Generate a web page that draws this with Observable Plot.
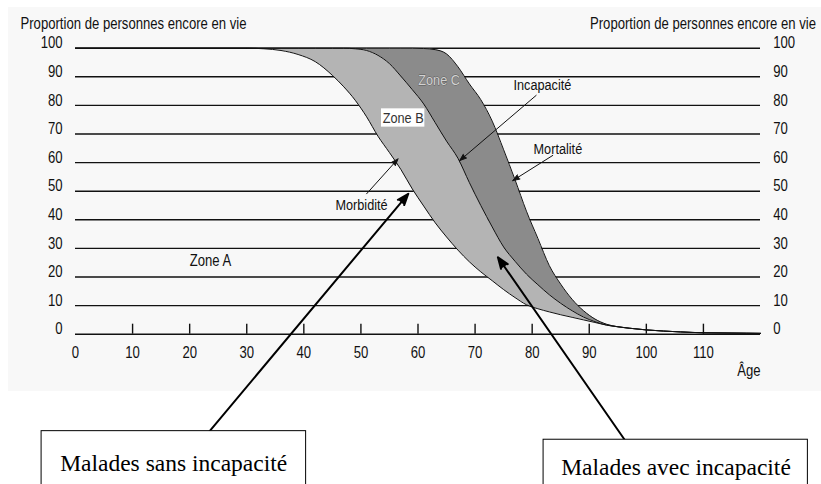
<!DOCTYPE html>
<html><head><meta charset="utf-8">
<script src="https://cdn.jsdelivr.net/npm/d3@7"></script>
<script src="https://cdn.jsdelivr.net/npm/@observablehq/plot@0.6"></script>
<style>
html,body{margin:0;padding:0;background:#fff;}
#wrap{position:relative;width:821px;height:484px;overflow:hidden;}
#panel{position:absolute;left:8px;top:7px;width:813px;height:384px;background:#f8f8f8;}
#chart{position:absolute;left:0;top:0;}
</style></head><body>
<div id="wrap"><div id="panel"></div><div id="chart"></div></div>
<script>
// Âge (années)
const ages       = [0,30,33,36,39,42,45,47,49,51,53,55,57,59,61,63,65,67,69,71,73,75,77,79,81,83,85,87,89,91,93,95,97,100,103,106,110,115,120];
// Proportion de personnes encore en vie (%)
const morbidite  = [100,100,99.8,99.2,97.8,95.3,90.5,86.5,81.8,76,69.2,63.5,57.6,50.8,44.8,39,34,29.4,25.3,21.8,18.7,15.6,12.8,10.3,8.9,7.8,6.8,5.9,5,4.1,3.2,2.6,2.1,1.5,1.1,0.8,0.5,0.4,0.3];
const incapacite = [100,100,100,100,100,100,100,100,99.8,99.2,97.5,94.6,90.2,85.5,80.5,74,67.5,61.5,53,45,37.5,30.5,25.5,21,17.3,13.8,10.8,8.2,6,4.4,3.2,2.6,2.1,1.5,1.1,0.8,0.5,0.4,0.3];
const mortalite  = [100,100,100,100,100,100,100,100,100,100,100,100,100,100,99.9,99.5,98,93.5,87.5,82,74.5,64.5,54,43,33.5,24,17.5,12.2,8.2,5.3,3.5,2.6,2.1,1.5,1.1,0.8,0.5,0.4,0.3];

const yTicks = [0,10,20,30,40,50,60,70,80,90,100];
const xLabels = [0,10,20,30,40,50,60,70,80,90,100,110];
const xTickMarks = [10,20,30,40,50,60,70,80,90,100,110];

const titre = "Proportion de personnes encore en vie";
const axeX = "Âge";

const zoneLabels = [
  {text: "Zone A", x: 20, y: 25.8},
];
const zoneB = {text: "Zone B", x: 57.4, y: 75.6, x1: 53.6, x2: 61.2, y1: 72.4, y2: 78.8};
const zoneC = {text: "Zone C", x: 63.7, y: 88.7};

const curveLabels = [
  {text: "Morbidité", x: 50.1, y: 45.3, anchor: "end"},
  {text: "Incapacité", x: 81.8, y: 87, anchor: "start"},
  {text: "Mortalité", x: 84.5, y: 64.8, anchor: "start"}
];
const smallArrows = [
  {x1: 51, y1: 49.1, x2: 56.5, y2: 61.3},
  {x1: 80.7, y1: 83.5, x2: 67.3, y2: 60.7},
  {x1: 83.6, y1: 62.5, x2: 76.6, y2: 53.7}
];
const bigArrows = [
  {x1: 23.5, y1: -33.9, x2: 58.3, y2: 49.1},
  {x1: 96.2, y1: -36.9, x2: 74.0, y2: 26.9}
];
const boxes = [
  {text: "Malades sans incapacité", x1: -5.94, x2: 40.4, y1: -33.9, y2: -60, tx: 17.2, ty: -45.2},
  {text: "Malades avec incapacité", x1: 82.0, x2: 128.3, y1: -36.9, y2: -60, tx: 105.2, ty: -46.6}
];

const rows = ages.map((a, i) => ({age: a, morb: morbidite[i], inc: incapacite[i], mort: mortalite[i]}));

const sans = "'Liberation Sans',Arial,sans-serif";
const serif = "'Liberation Serif','Times New Roman',serif";
const curve = "monotone-x";

const chart = Plot.plot({
  width: 821,
  height: 484,
  marginLeft: 75,
  marginRight: 61,
  marginTop: 47.7,
  marginBottom: 150.3,
  style: {background: "transparent", fontFamily: sans, fontSize: "16px", color: "#111"},
  x: {domain: [0, 120]},
  y: {domain: [0, 100]},
  marks: [
    Plot.ruleY(yTicks, {y: d => d, x1: 0, x2: 120, stroke: "#111", strokeWidth: 1.4}),
    Plot.areaY(rows, {x: "age", y1: "morb", y2: "inc", fill: "#b4b4b4", curve}),
    Plot.areaY(rows, {x: "age", y1: "inc", y2: "mort", fill: "#8b8b8b", curve}),
    Plot.line(rows, {x: "age", y: "morb", stroke: "#111", strokeWidth: 1, curve}),
    Plot.line(rows, {x: "age", y: "inc", stroke: "#111", strokeWidth: 1, curve}),
    Plot.line(rows, {x: "age", y: "mort", stroke: "#111", strokeWidth: 1, curve}),
    Plot.ruleX(xTickMarks, {x: d => d, y1: 0, y2: 3.5, stroke: "#111", strokeWidth: 1.4}),
    Plot.axisY(yTicks, {anchor: "left", tickSize: 0, tickPadding: 13, dy: -5, label: null, fontSize: 16}),
    Plot.axisY(yTicks, {anchor: "right", tickSize: 0, tickPadding: 12.7, dy: -5, label: null, fontSize: 16}),
    Plot.axisX(xLabels, {anchor: "bottom", tickSize: 0, tickPadding: 12, label: null, fontSize: 16}),
    Plot.text([titre], {frameAnchor: "top-left", dx: -55, dy: -24.4, textAnchor: "start", lineAnchor: "middle", fontSize: 16}),
    Plot.text([titre], {frameAnchor: "top-right", dx: 55.5, dy: -24.4, textAnchor: "end", lineAnchor: "middle", fontSize: 16}),
    Plot.text([axeX], {frameAnchor: "bottom-right", dy: 36.3, textAnchor: "end", lineAnchor: "middle", fontSize: 16}),
    Plot.text(zoneLabels, {x: "x", y: "y", text: "text", textAnchor: "start", lineAnchor: "middle", fill: "#111", fontSize: 16}),
    Plot.rect([zoneB], {x1: "x1", x2: "x2", y1: "y1", y2: "y2", fill: "white"}),
    Plot.text([zoneB], {x: "x", y: "y", text: "text", lineAnchor: "middle", fill: "#333", fontSize: 15.5}),
    Plot.text([zoneC], {x: "x", y: "y", text: "text", lineAnchor: "middle", fill: "#d2d2d2", stroke: "#555", strokeWidth: 0.8, fontSize: 15.5}),
    Plot.text(curveLabels, {x: "x", y: "y", text: "text", textAnchor: d => d.anchor, lineAnchor: "middle", fill: "#111", fontSize: 15.5}),
    Plot.arrow(smallArrows, {x1: "x1", y1: "y1", x2: "x2", y2: "y2", stroke: "#111", fill: "#111", strokeWidth: 1, headLength: 11, headAngle: 40}),
    Plot.arrow(bigArrows, {x1: "x1", y1: "y1", x2: "x2", y2: "y2", stroke: "#000", fill: "#000", strokeWidth: 2, headLength: 9, headAngle: 40}),
    Plot.rect(boxes, {x1: "x1", x2: "x2", y1: "y1", y2: "y2", fill: "white", stroke: "#000", strokeWidth: 1}),
    Plot.text(boxes, {x: "tx", y: "ty", text: "text", lineAnchor: "middle", fontFamily: serif, fontSize: 23.5, fill: "#000"})
  ]
});
document.getElementById("chart").appendChild(chart);

// The original uses a narrow sans-serif face: condense the sans texts horizontally
// around their anchor point.
const squeeze = 0.82;
chart.querySelectorAll("text").forEach(t => {
  const cs = getComputedStyle(t);
  if (/Serif/.test(cs.fontFamily)) return;
  const b = t.getBBox();
  if (!b.width) return;
  const anchor = cs.textAnchor;
  const ax = anchor === "start" ? b.x : anchor === "end" ? b.x + b.width : b.x + b.width / 2;
  const prev = t.getAttribute("transform") || "";
  t.setAttribute("transform", `${prev} translate(${ax},0) scale(${squeeze},1) translate(${-ax},0)`.trim());
});
</script>
</body></html>
